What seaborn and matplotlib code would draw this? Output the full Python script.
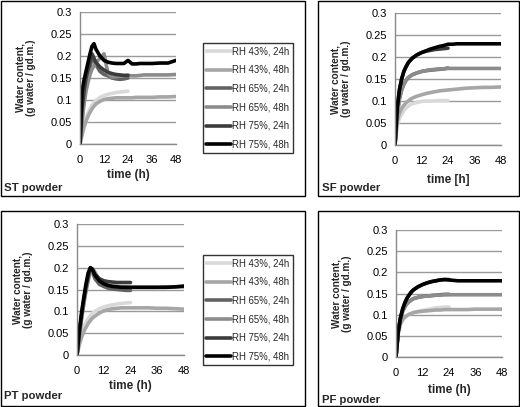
import numpy as np
import pandas as pd
import matplotlib
matplotlib.use("Agg")
import matplotlib.pyplot as plt
import seaborn as sns
from matplotlib.patches import Rectangle

sns.set_style("white")
plt.rcParams['font.family'] = ['Liberation Sans', 'DejaVu Sans']

series_names = ["RH 43%, 24h", "RH 43%, 48h", "RH 65%, 24h", "RH 65%, 48h", "RH 75%, 24h", "RH 75%, 48h"]
series_colors = ["#d9d9d9", "#a6a6a6", "#636363", "#8c8c8c", "#3c3c3c", "#000000"]

# time points (h)
t24 = [0, 1, 2, 3, 4, 5, 6, 7, 8, 10, 12, 14, 16, 18, 20, 22, 24]
t48 = [0, 1, 2, 3, 4, 5, 6, 7, 8, 10, 12, 14, 16, 18, 20, 22, 24, 26, 28, 30, 32, 36, 40, 44, 48]

# ST powder
st_43_24 = [0, 0.025, 0.045, 0.060, 0.071, 0.080, 0.088, 0.094, 0.099, 0.106, 0.110, 0.113, 0.115, 0.117, 0.118, 0.119, 0.120]
st_43_48 = [0, 0.020, 0.038, 0.052, 0.063, 0.072, 0.080, 0.086, 0.091, 0.097, 0.101, 0.103, 0.104, 0.105, 0.105, 0.105, 0.105, 0.105, 0.106, 0.106, 0.106, 0.106, 0.107, 0.107, 0.108]
st_65_24 = [0, 0.060, 0.100, 0.130, 0.155, 0.175, 0.195, 0.190, 0.180, 0.165, 0.158, 0.155, 0.150, 0.148, 0.147, 0.148, 0.150]
st_65_48 = [0, 0.050, 0.090, 0.120, 0.140, 0.158, 0.170, 0.178, 0.185, 0.195, 0.205, 0.160, 0.152, 0.153, 0.154, 0.155, 0.156, 0.155, 0.155, 0.156, 0.157, 0.157, 0.157, 0.157, 0.158]
st_75_24 = [0, 0.080, 0.120, 0.150, 0.170, 0.190, 0.205, 0.195, 0.185, 0.175, 0.168, 0.163, 0.160, 0.158, 0.157, 0.156, 0.156]
st_75_48 = [0, 0.120, 0.145, 0.165, 0.185, 0.205, 0.222, 0.228, 0.215, 0.200, 0.190, 0.186, 0.184, 0.183, 0.183, 0.183, 0.190, 0.182, 0.182, 0.183, 0.183, 0.183, 0.184, 0.184, 0.190]

# SF powder
sf_43_24 = [0, 0.045, 0.060, 0.070, 0.078, 0.084, 0.088, 0.092, 0.094, 0.097, 0.099, 0.100, 0.100, 0.100, 0.101, 0.101, 0.101]
sf_43_48 = [0, 0.055, 0.072, 0.083, 0.090, 0.096, 0.100, 0.104, 0.107, 0.111, 0.114, 0.117, 0.119, 0.121, 0.123, 0.124, 0.125, 0.126, 0.127, 0.128, 0.129, 0.130, 0.131, 0.131, 0.132]
sf_65_24 = [0, 0.070, 0.105, 0.125, 0.138, 0.147, 0.153, 0.157, 0.160, 0.164, 0.167, 0.169, 0.170, 0.171, 0.172, 0.173, 0.175]
sf_65_48 = [0, 0.070, 0.105, 0.125, 0.138, 0.147, 0.153, 0.157, 0.160, 0.164, 0.167, 0.169, 0.171, 0.172, 0.173, 0.173, 0.174, 0.174, 0.174, 0.174, 0.174, 0.174, 0.174, 0.174, 0.174]
sf_75_24 = [0, 0.085, 0.125, 0.150, 0.167, 0.178, 0.187, 0.193, 0.198, 0.205, 0.210, 0.213, 0.215, 0.217, 0.218, 0.219, 0.220]
sf_75_48 = [0, 0.085, 0.125, 0.150, 0.167, 0.178, 0.187, 0.193, 0.198, 0.205, 0.210, 0.214, 0.218, 0.221, 0.224, 0.226, 0.229, 0.229, 0.230, 0.230, 0.230, 0.230, 0.230, 0.230, 0.230]

# PT powder
pt_43_24 = [0, 0.035, 0.052, 0.065, 0.075, 0.083, 0.090, 0.096, 0.100, 0.106, 0.110, 0.113, 0.115, 0.117, 0.118, 0.119, 0.120]
pt_43_48 = [0, 0.022, 0.040, 0.053, 0.063, 0.072, 0.079, 0.085, 0.089, 0.096, 0.101, 0.104, 0.106, 0.107, 0.108, 0.108, 0.108, 0.108, 0.108, 0.108, 0.108, 0.107, 0.107, 0.106, 0.105]
pt_65_24 = [0, 0.045, 0.085, 0.120, 0.150, 0.175, 0.195, 0.190, 0.175, 0.162, 0.157, 0.153, 0.151, 0.150, 0.149, 0.148, 0.148]
pt_65_48 = [0, 0.040, 0.080, 0.115, 0.145, 0.170, 0.190, 0.198, 0.190, 0.172, 0.163, 0.160, 0.158, 0.157, 0.156, 0.156, 0.155, 0.155, 0.155, 0.155, 0.155, 0.155, 0.156, 0.156, 0.156]
pt_75_24 = [0, 0.050, 0.090, 0.125, 0.155, 0.180, 0.200, 0.195, 0.185, 0.175, 0.170, 0.168, 0.167, 0.166, 0.166, 0.166, 0.166]
pt_75_48 = [0, 0.055, 0.095, 0.130, 0.162, 0.188, 0.200, 0.195, 0.183, 0.170, 0.163, 0.159, 0.157, 0.156, 0.155, 0.155, 0.155, 0.155, 0.155, 0.155, 0.155, 0.155, 0.155, 0.156, 0.158]

# PF powder
pf_43_24 = [0, 0.055, 0.078, 0.088, 0.094, 0.098, 0.101, 0.103, 0.105, 0.108, 0.110, 0.112, 0.114, 0.116, 0.117, 0.118, 0.118]
pf_43_48 = [0, 0.055, 0.078, 0.088, 0.094, 0.098, 0.101, 0.103, 0.105, 0.107, 0.108, 0.109, 0.110, 0.111, 0.111, 0.112, 0.112, 0.112, 0.112, 0.112, 0.112, 0.113, 0.113, 0.113, 0.113]
pf_65_24 = [0, 0.060, 0.090, 0.108, 0.119, 0.126, 0.131, 0.135, 0.138, 0.141, 0.143, 0.144, 0.145, 0.146, 0.147, 0.148, 0.148]
pf_65_48 = [0, 0.060, 0.090, 0.108, 0.119, 0.126, 0.131, 0.135, 0.138, 0.141, 0.143, 0.144, 0.145, 0.146, 0.146, 0.147, 0.147, 0.147, 0.147, 0.147, 0.147, 0.147, 0.147, 0.147, 0.147]
pf_75_24 = [0, 0.060, 0.092, 0.113, 0.128, 0.139, 0.147, 0.154, 0.159, 0.166, 0.171, 0.175, 0.178, 0.180, 0.182, 0.183, 0.183]
pf_75_48 = [0, 0.060, 0.092, 0.113, 0.128, 0.139, 0.147, 0.154, 0.159, 0.166, 0.171, 0.175, 0.178, 0.180, 0.182, 0.183, 0.182, 0.181, 0.180, 0.180, 0.180, 0.180, 0.180, 0.180, 0.180]

x_ticks = [0, 12, 24, 36, 48]
y_ticks = [0, 0.05, 0.1, 0.15, 0.2, 0.25, 0.3]
y_tick_labels = ["0", "0.05", "0.1", "0.15", "0.2", "0.25", "0.3"]

panels = [
    ("ST powder", "time (h)", [st_43_24, st_43_48, st_65_24, st_65_48, st_75_24, st_75_48]),
    ("SF powder", "time [h]", [sf_43_24, sf_43_48, sf_65_24, sf_65_48, sf_75_24, sf_75_48]),
    ("PT powder", "time (h)", [pt_43_24, pt_43_48, pt_65_24, pt_65_48, pt_75_24, pt_75_48]),
    ("PF powder", "time (h)", [pf_43_24, pf_43_48, pf_65_24, pf_65_48, pf_75_24, pf_75_48]),
]

W, H = 520, 407
fig = plt.figure(figsize=(W / 100, H / 100), dpi=100)

def fr(l, t, r, b):
    return [l / W, 1 - b / H, (r - l) / W, (b - t) / H]

# panel boxes (pixels: l, t, r, b)
boxes = [(1, 1, 305, 196), (318, 1, 519, 196), (1, 211, 305, 406), (318, 211, 519, 406)]
axes_px = [(80, 12, 176, 144), (395, 13, 501, 145), (77, 224, 184, 355), (396, 230, 502, 357)]
label_px = [(4, 191), (322, 191), (4, 399), (322, 403)]
xlab_pad = [3.0, 6.0, 3.0, 4.0]
legend_px = [(203, 43, 294, 145), (203, 255, 294, 362)]

for bx in boxes:
    l, t, r, b = bx
    fig.patches.append(Rectangle((l / W, 1 - b / H), (r - l) / W, (b - t) / H,
                                 transform=fig.transFigure, fill=False,
                                 edgecolor="black", linewidth=1.0))

for i, (name, xlabel, vals) in enumerate(panels):
    rows = []
    for sname, v in zip(series_names, vals):
        tt = t24 if len(v) == len(t24) else t48
        for ti, vi in zip(tt, v):
            rows.append({"time": ti, "water": vi, "series": sname})
    df = pd.DataFrame(rows)
    ax = fig.add_axes(fr(*axes_px[i]))
    sns.lineplot(data=df, x="time", y="water", hue="series", hue_order=series_names,
                 palette=series_colors, linewidth=2.6, ax=ax, legend=(i in (0, 2)),
                 estimator=None, sort=True)
    ax.set_xlim(0, 48)
    ax.set_ylim(0, 0.3)
    ax.set_xticks(x_ticks)
    ax.set_xticklabels([str(x) for x in x_ticks])
    ax.set_yticks(y_ticks)
    ax.set_yticklabels(y_tick_labels)
    ax.yaxis.grid(True, color="#9a9a9a", linewidth=1.0)
    ax.xaxis.grid(False)
    ax.set_axisbelow(True)
    for s in ["top", "right"]:
        ax.spines[s].set_visible(False)
    for s in ["left", "bottom"]:
        ax.spines[s].set_color("#8a8a8a")
        ax.spines[s].set_linewidth(1.0)
    ax.tick_params(axis="both", which="both", direction="out", length=3, width=1,
                   color="#8a8a8a", labelsize=8, labelcolor="black")
    ax.tick_params(axis="x", pad=5)
    ax.tick_params(axis="y", pad=3)
    ax.set_xlabel(xlabel, fontsize=8.5, fontweight="bold", labelpad=xlab_pad[i])
    ax.set_ylabel("Water content,\n(g water / gd.m.)", fontsize=7.2, fontweight="bold",
                  labelpad=10, linespacing=1.1)
    fig.text(label_px[i][0] / W, 1 - label_px[i][1] / H, name, fontsize=8.2,
             fontweight="bold", ha="left", va="baseline")
    if i in (0, 2):
        lp = legend_px[0] if i == 0 else legend_px[1]
        l, t, r, b = lp
        leg = ax.legend(loc="upper left", bbox_to_anchor=(l / W, 1 - t / H),
                        bbox_transform=fig.transFigure, fontsize=6.9, frameon=True,
                        fancybox=False, handlelength=2.6, handletextpad=0.1,
                        labelspacing=0.9, borderpad=0.35, borderaxespad=0)
        leg.get_frame().set_edgecolor("black")
        leg.get_frame().set_linewidth(1.0)
        for ln in leg.get_lines():
            ln.set_linewidth(2.6)

fig.savefig("out.png", dpi=100)
